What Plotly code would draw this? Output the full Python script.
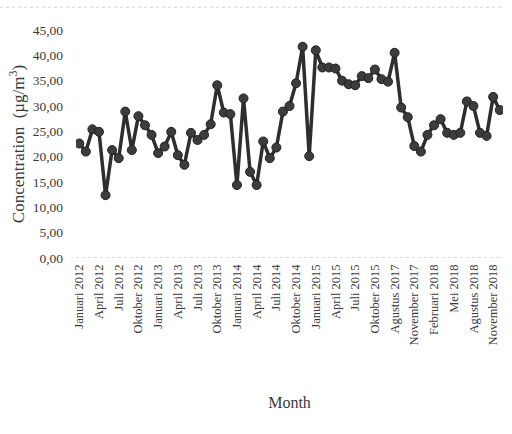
import plotly.graph_objects as go

# Indonesian month names used for the category axis
month_names = ["Januari", "Februari", "Maret", "April", "Mei", "Juni", "Juli",
               "Agustus", "September", "Oktober", "November", "Desember"]

# Observed periods: Jan 2012 - Dec 2015, then Aug 2017 - Dec 2018
periods = ([(m, y) for y in (2012, 2013, 2014, 2015) for m in range(12)]
           + [(m, 2017) for m in range(7, 12)]
           + [(m, 2018) for m in range(12)])
months = [f"{month_names[m]} {y}" for m, y in periods]

# Monthly mean concentration (µg/m³)
concentration = [
    22.6, 21.0, 25.4, 24.9, 12.4, 21.3, 19.7, 28.9, 21.3, 28.0, 26.2, 24.3,
    20.7, 22.0, 24.9, 20.3, 18.4, 24.7, 23.3, 24.3, 26.4, 34.1, 28.7, 28.4,
    14.4, 31.5, 17.0, 14.4, 23.0, 19.7, 21.8, 28.9, 30.0, 34.5, 41.7, 20.1,
    41.0, 37.6, 37.6, 37.4, 35.0, 34.3, 34.1, 35.9, 35.5, 37.2, 35.3, 34.8,
    40.5, 29.7, 27.8, 22.1, 21.0, 24.3, 26.2, 27.4, 24.7, 24.3, 24.7, 30.9,
    30.0, 24.7, 24.1, 31.8, 29.2,
]

# Label every third month
tick_months = months[::3]
y_ticks = [0, 5, 10, 15, 20, 25, 30, 35, 40, 45]

serif = "Liberation Serif, Times New Roman, serif"
text_color = "#3a3a3a"

fig = go.Figure(
    go.Scatter(
        x=months,
        y=concentration,
        mode="lines+markers",
        line=dict(color="#2e2e2e", width=3.5),
        marker=dict(size=9, color="#3c3c3c", line=dict(color="#222222", width=1)),
        showlegend=False,
    )
)

fig.update_layout(
    width=512,
    height=434,
    margin=dict(l=76, r=9, t=30, b=176),
    paper_bgcolor="white",
    plot_bgcolor="white",
    separators=",.",
    font=dict(family=serif, size=12, color=text_color),
    xaxis=dict(
        type="category",
        categoryorder="array",
        categoryarray=months,
        range=[-0.5, len(months) - 0.5],
        tickmode="array",
        tickvals=tick_months,
        ticktext=tick_months,
        tickangle=-90,
        tickfont=dict(family=serif, size=12.5, color=text_color),
        showgrid=False,
        showline=False,
        zeroline=False,
        ticks="",
        ticklabelstandoff=3,
        title=dict(text="Month", font=dict(family=serif, size=16, color=text_color),
                   standoff=52),
    ),
    yaxis=dict(
        range=[0, 45],
        tickmode="array",
        tickvals=y_ticks,
        tickformat=".2f",
        tickfont=dict(family=serif, size=13.5, color=text_color),
        showgrid=False,
        showline=False,
        zeroline=False,
        ticks="",
        ticklabelstandoff=12,
        title=dict(text="Concentration  (µg/m<sup>3</sup>)",
                   font=dict(family=serif, size=17, color=text_color),
                   standoff=3),
    ),
    shapes=[
        # dotted baseline along the category axis
        dict(type="line", xref="paper", yref="y", x0=0, x1=1, y0=0, y1=0,
             line=dict(color="#b5b5b5", width=1, dash="dot")),
        # faint dotted frame edge at the top of the chart
        dict(type="line", xref="paper", yref="paper", x0=-0.178, x1=1.0,
             y0=1.1, y1=1.1, line=dict(color="#d0d0d0", width=1, dash="dot")),
    ],
)

fig.write_html("out.html")
